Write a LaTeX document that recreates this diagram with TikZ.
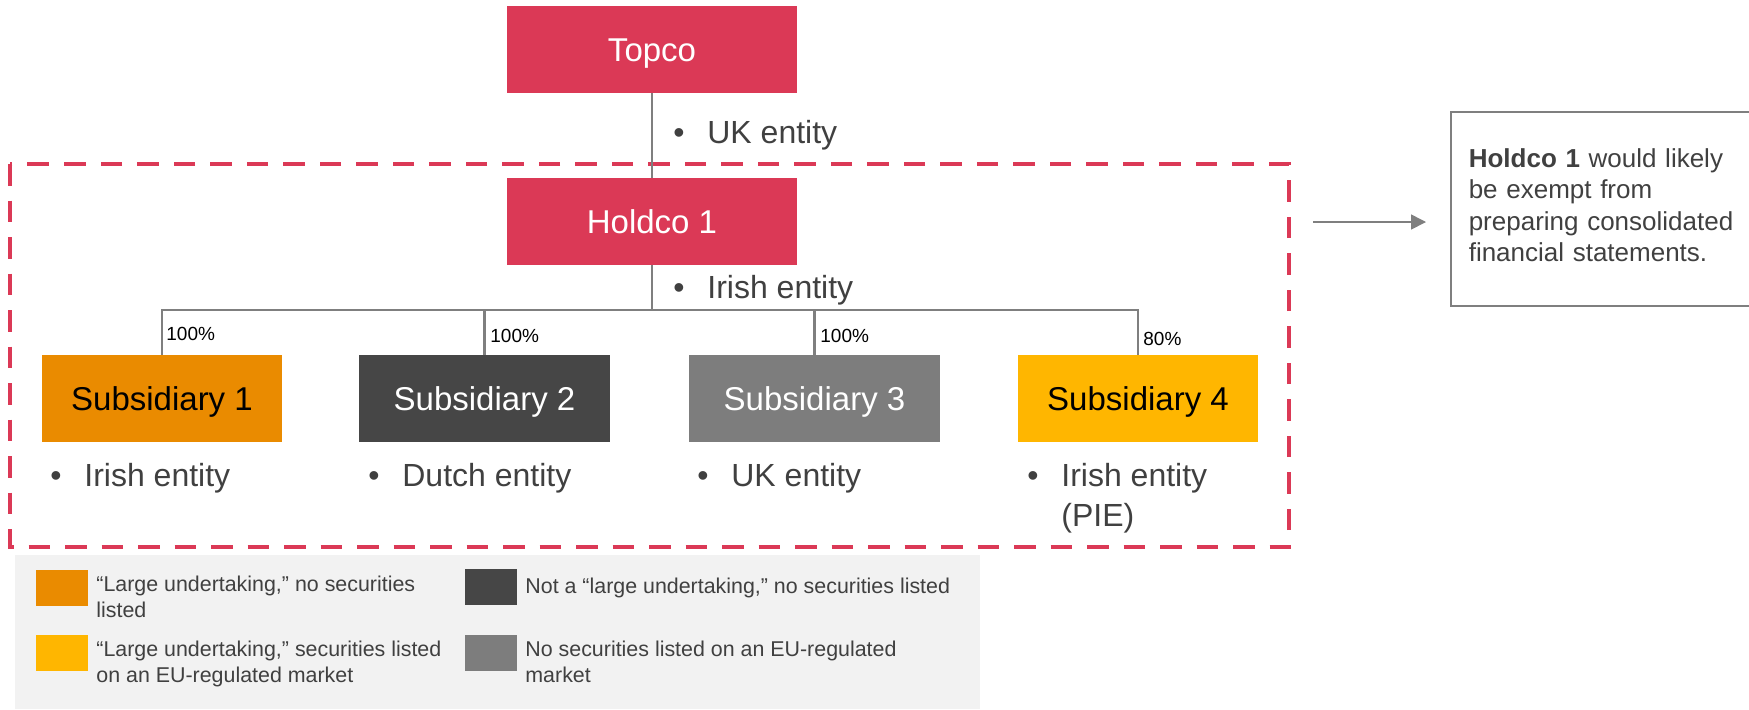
\documentclass[tikz,border=0pt]{standalone}
\usepackage{fontspec}
\setmainfont{Liberation Sans}
\usetikzlibrary{arrows.meta}
\definecolor{crimson}{RGB}{219,57,86}
\definecolor{suborange}{RGB}{234,139,0}
\definecolor{subdark}{RGB}{70,70,70}
\definecolor{submid}{RGB}{125,125,125}
\definecolor{subyellow}{RGB}{255,182,0}
\definecolor{linegray}{RGB}{127,127,127}
\definecolor{txtgray}{RGB}{64,64,64}
\definecolor{legendbg}{RGB}{242,242,242}
\newcommand{\bulitem}[1]{\makebox[17pt][l]{\textbullet}#1}
\begin{document}
\begin{tikzpicture}[x=0.5pt,y=-0.5pt,
    entity/.style={minimum width=145pt,minimum height=43.5pt,inner sep=0pt,
        text height=11.8pt,text depth=0pt,
        fill=crimson,text=white,font=\fontsize{16.5}{20}\selectfont},
    link/.style={draw=linegray,line width=1.4pt},
    bul/.style={inner sep=0pt,text=txtgray,align=left,font=\fontsize{16}{20}\selectfont},
    pct/.style={inner sep=0pt,anchor=west,font=\fontsize{9.5}{11}\selectfont},
    swatch/.style={minimum width=26pt,minimum height=18pt,inner sep=0pt},
    legtext/.style={inner sep=0pt,anchor=north west,align=left,text=txtgray,
        font=\fontsize{10.7}{13}\selectfont}]
    \tikzstyle{sub}=[minimum height=43.5pt,inner sep=0pt,text height=11.8pt,text depth=0pt,
        font=\fontsize{16.5}{20}\selectfont]

    \useasboundingbox (0,0) rectangle (1749,709);

    \draw[crimson,line width=2pt,dash pattern=on 10.75pt off 7.5pt] (10,164) rectangle (1289,547);

    \node[entity] (topco) at (652,49.5) {Topco};
    \node[entity] (holdco) at (652,221.5) {Holdco 1};

    \node[sub,minimum width=120pt,fill=suborange,text=black] (sub1) at (162,398.5) {Subsidiary 1};
    \node[sub,minimum width=125.5pt,fill=subdark,text=white] (sub2) at (484.5,398.5) {Subsidiary 2};
    \node[sub,minimum width=125.5pt,fill=submid,text=white] (sub3) at (814.5,398.5) {Subsidiary 3};
    \node[sub,minimum width=120pt,fill=subyellow,text=black] (sub4) at (1138,398.5) {Subsidiary 4};

    \coordinate (bar) at (652,310);
    \draw[link] (topco) -- (holdco);
    \draw[link] (holdco) -- (bar);
    \draw[link] (sub1.north) |- (sub4.north |- bar) -- (sub4.north);
    \draw[link] (sub2.north) -- (sub2.north |- bar);
    \draw[link] (sub3.north) -- (sub3.north |- bar);

    \node[pct] (p1) at (166,334) {100\%};
    \node[pct] (p2) at (490,336) {100\%};
    \node[pct] (p3) at (820,336) {100\%};
    \node[pct] (p4) at (1143,339) {80\%};

    \node[bul,anchor=base west] (topinfo) at (673,143.5) {\bulitem{UK entity}};
    \node[bul,anchor=base west] (holdinfo) at (673,298.5) {\bulitem{Irish entity}};
    \node[bul,anchor=base west] (info1) at (50,486.5) {\bulitem{Irish entity}};
    \node[bul,anchor=base west] (info2) at (368,486.5) {\bulitem{Dutch entity}};
    \node[bul,anchor=base west] (info3) at (697,486.5) {\bulitem{UK entity}};
    \node[bul,anchor=north west] (info4) at (1027,463) {\bulitem{Irish entity}\\\hspace*{17pt}(PIE)};

    \fill[legendbg] (15,555) rectangle (980,709);
    \node[swatch,fill=suborange] (sw1) at (61.5,588) {};
    \node[swatch,fill=subdark] (sw2) at (490.5,587) {};
    \node[swatch,fill=subyellow] (sw3) at (61.5,653) {};
    \node[swatch,fill=submid] (sw4) at (490.5,653) {};
    \node[legtext] (leg1) at (96,576) {“Large undertaking,” no securities\\listed};
    \node[legtext] (leg2) at (525,578) {Not a “large undertaking,” no securities listed};
    \node[legtext] (leg3) at (96,641) {“Large undertaking,” securities listed\\on an EU-regulated market};
    \node[legtext] (leg4) at (525,641) {No securities listed on an EU-regulated\\market};

    \node[draw=linegray,line width=0.75pt,anchor=north west,minimum height=97pt,
        text width=133pt,inner xsep=9pt,inner ysep=0pt,align=left,text=txtgray,
        font=\fontsize{13}{15.75}\selectfont] (note) at (1450,111)
        {\textbf{Holdco 1} would likely\\be exempt from\\preparing consolidated\\financial statements.\vspace*{3.5pt}};

    \coordinate (arrtail) at (1313,222);
    \draw[linegray,line width=0.8pt,-{Triangle[length=7.5pt,width=7.5pt]},shorten >=12pt]
        (arrtail) -- (note.west |- arrtail);

\end{tikzpicture}
\end{document}
